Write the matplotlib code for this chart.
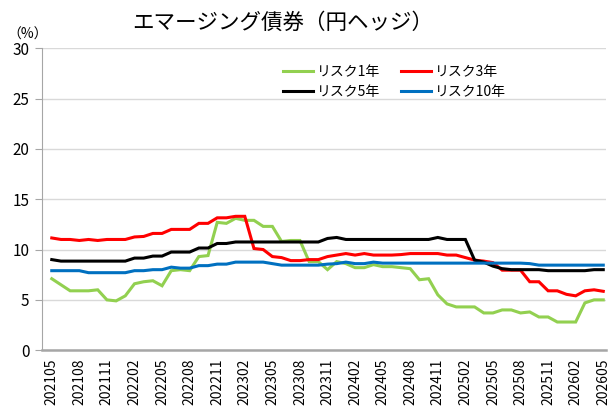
import numpy as np
import matplotlib
matplotlib.use("Agg")
import matplotlib.pyplot as plt

plt.rcParams['font.family'] = ['Noto Sans CJK JP', 'DejaVu Sans']

# monthly 202105 .. 202605
months = []
y, m = 2021, 5
while (y, m) <= (2026, 5):
    months.append("%d%02d" % (y, m))
    m += 1
    if m > 12:
        y, m = y + 1, 1

risk1 = [7.1, 6.5, 5.9, 5.9, 5.9, 6.0, 5.0, 4.9, 5.4, 6.6,
         6.8, 6.9, 6.4, 7.9, 8.0, 7.9, 9.3, 9.4, 12.7, 12.6,
         13.1, 12.9, 12.9, 12.3, 12.3, 10.8, 10.9, 10.9, 8.8, 8.8,
         8.0, 8.8, 8.6, 8.2, 8.2, 8.5, 8.3, 8.3, 8.2, 8.1,
         7.0, 7.1, 5.5, 4.6, 4.3, 4.3, 4.3, 3.7, 3.7, 4.0,
         4.0, 3.7, 3.8, 3.3, 3.3, 2.8, 2.8, 2.8, 4.7, 5.0,
         5.0]
risk3 = [11.15, 11.0, 11.0, 10.9, 11.0, 10.9, 11.0, 11.0, 11.0, 11.25,
         11.3, 11.6, 11.6, 12.0, 12.0, 12.0, 12.6, 12.6, 13.15, 13.15,
         13.3, 13.3, 10.1, 10.0, 9.3, 9.2, 8.9, 8.9, 9.0, 9.0,
         9.3, 9.45, 9.6, 9.45, 9.6, 9.45, 9.45, 9.45, 9.5, 9.6,
         9.6, 9.6, 9.6, 9.45, 9.45, 9.2, 8.95, 8.85, 8.7, 7.95,
         7.95, 7.95, 6.8, 6.8, 5.9, 5.9, 5.55, 5.4, 5.9, 6.0,
         5.85]
risk5 = [9.0, 8.85, 8.85, 8.85, 8.85, 8.85, 8.85, 8.85, 8.85, 9.15,
         9.15, 9.35, 9.35, 9.75, 9.75, 9.75, 10.15, 10.15, 10.6, 10.6,
         10.75, 10.75, 10.75, 10.75, 10.75, 10.75, 10.75, 10.75, 10.75, 10.75,
         11.1, 11.2, 11.0, 11.0, 11.0, 11.0, 11.0, 11.0, 11.0, 11.0,
         11.0, 11.0, 11.2, 11.0, 11.0, 11.0, 8.95, 8.75, 8.35, 8.1,
         8.0, 8.0, 8.0, 8.0, 7.9, 7.9, 7.9, 7.9, 7.9, 8.0,
         8.0]
risk10 = [7.9, 7.9, 7.9, 7.9, 7.7, 7.7, 7.7, 7.7, 7.7, 7.9,
          7.9, 8.0, 8.0, 8.25, 8.15, 8.15, 8.4, 8.4, 8.55, 8.55,
          8.75, 8.75, 8.75, 8.75, 8.6, 8.45, 8.45, 8.45, 8.45, 8.45,
          8.55, 8.6, 8.75, 8.6, 8.6, 8.75, 8.65, 8.65, 8.65, 8.65,
          8.65, 8.65, 8.65, 8.65, 8.65, 8.65, 8.65, 8.65, 8.65, 8.65,
          8.65, 8.65, 8.6, 8.45, 8.45, 8.45, 8.45, 8.45, 8.45, 8.45,
          8.45]

series_names = ["リスク1年", "リスク3年", "リスク5年", "リスク10年"]
colors = ["#92D050", "#FF0000", "#000000", "#0070C0"]

fig = plt.figure(figsize=(6.14, 4.12), dpi=100)
ax = fig.add_axes([0.068, 0.150, 0.919, 0.733])

x = np.arange(len(months))
lines = []
for vals, name, c in zip([risk1, risk3, risk5, risk10], series_names, colors):
    ln, = ax.plot(x, vals, color=c, lw=2.2, label=name, solid_joinstyle='miter')
    lines.append(ln)

ax.set_ylim(0, 30)
ax.set_yticks(range(0, 31, 5))
ax.set_xlim(-1.09, 60.3)
ax.set_xticks(x[::3])
ax.set_xticklabels(months[::3], rotation=90, fontsize=10)
ax.tick_params(axis='x', length=0, pad=6)
ax.tick_params(axis='y', labelsize=11, length=5, color='#A6A6A6', pad=4)
ax.grid(axis='y', color='#D9D9D9', lw=1)
ax.set_axisbelow(True)
for s in ['top', 'right']:
    ax.spines[s].set_visible(False)
ax.spines['left'].set_color('#A6A6A6')
ax.spines['bottom'].set_color('#A6A6A6')
ax.spines['bottom'].set_linewidth(1.8)

# row-wise legend order
order = [0, 2, 1, 3]
ax.legend([lines[i] for i in order], [series_names[i] for i in order],
          ncol=2, frameon=False, fontsize=10, handlelength=2.2,
          columnspacing=1.5, handletextpad=0.25, labelspacing=0.4,
          loc='upper left', bbox_to_anchor=(0.405, 0.985))

fig.text(0.46, 0.945, "エマージング債券（円ヘッジ）", fontsize=15.5,
         ha='center', va='center')
fig.text(0.012, 0.915, "（%）", fontsize=10, ha='left', va='center')

fig.savefig("out.png", dpi=100)
